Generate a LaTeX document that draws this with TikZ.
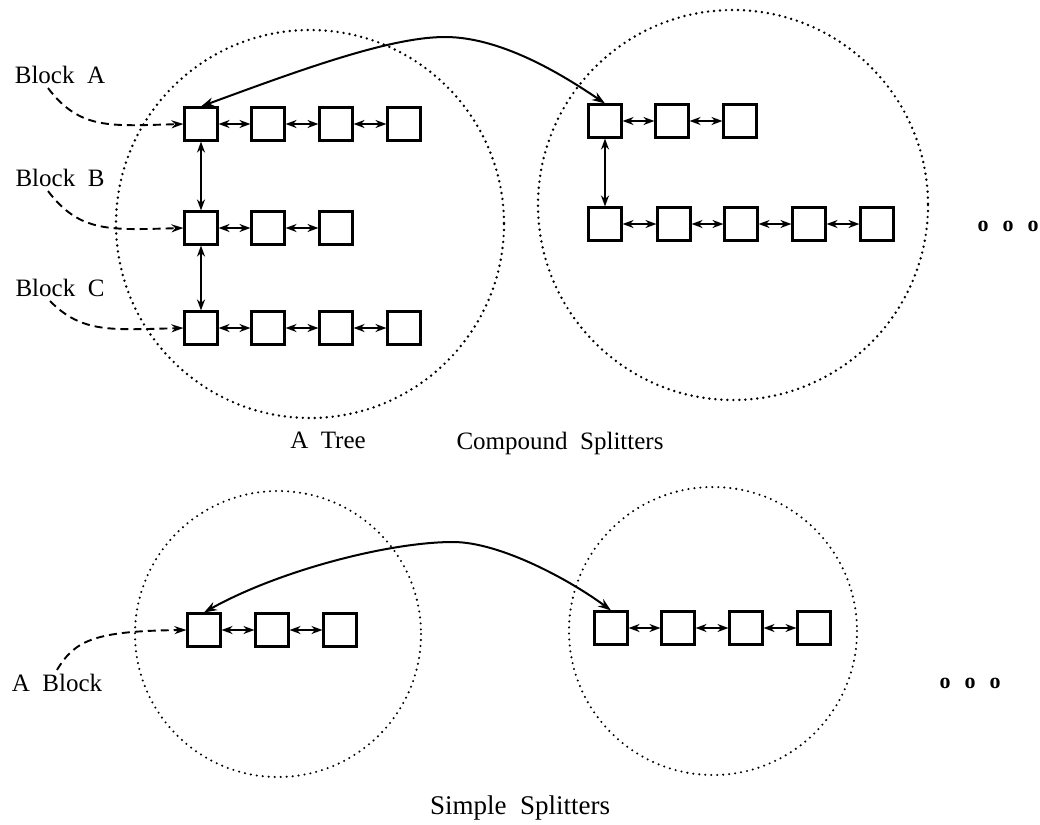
\documentclass[tikz,border=0pt]{standalone}
\usepackage{fontspec}
\setmainfont{Liberation Serif}
\usetikzlibrary{arrows.meta}
\tikzset{every picture/.style={line width=1.9pt,x=1pt,y=-1pt},
blk/.style={draw,line width=2.1pt,minimum size=33pt,inner sep=0pt},
lbl/.style={font=\fontsize{25}{30}\selectfont},
dot/.style={font=\fontsize{22}{26}\selectfont\bfseries,inner sep=0pt},
ring/.style={line width=2.7pt,dash pattern=on 0pt off 6pt,line cap=round},
link/.style={{Stealth[length=11pt,width=8pt]}-{Stealth[length=11pt,width=8pt]}},
jump/.style={line width=2pt,{Stealth[length=13pt,width=9pt]}-{Stealth[length=13pt,width=9pt]}},
ptr/.style={dash pattern=on 8pt off 5pt,-{Stealth[length=12pt,width=8pt]}}}
\begin{document}
\begin{tikzpicture}
\useasboundingbox (0,0) rectangle (1040,824);

% compound splitters
\draw[ring] (310,224) circle[radius=194];
\draw[ring] (733,205) circle[radius=195];

\foreach \x [count=\i] in {201,268,336,404} {
\node[blk] (a\i) at (\x,124) {};
\node[blk] (c\i) at (\x,328) {};
}
\foreach \x [count=\i] in {201,268,336} {
\node[blk] (b\i) at (\x,228) {};
\node[blk] (d\i) at (\x+404,121) {};
}
\foreach \x [count=\i] in {605,674,741,809,877} {
\node[blk] (e\i) at (\x,224) {};
}
\foreach \i/\j in {1/2,2/3,3/4} {
\draw[link] (a\i) -- (a\j);
\draw[link] (c\i) -- (c\j);
\draw[link] (e\i) -- (e\j);
}
\draw[link] (e4) -- (e5);
\foreach \i/\j in {1/2,2/3} {
\draw[link] (b\i) -- (b\j);
\draw[link] (d\i) -- (d\j);
}
\draw[link] (a1) -- (b1);
\draw[link] (b1) -- (c1);
\draw[link] (d1) -- (e1);

\coordinate (top) at (445,37);
\draw[jump] (a1.north) .. controls (300,70) and (390,37) .. (top)
  .. controls (505,37) and (570,80) .. (d1.north);

\node[lbl] (la) at (60,75) {Block~~A};
\node[lbl] (lb) at (60,178) {Block~~B};
\node[lbl] (lc) at (60,288) {Block~~C};
\draw[ptr] ([xshift=-12pt]la.south) .. controls (80,130) and (110,126) .. (a1.west);
\draw[ptr] ([xshift=-12pt]lb.south) .. controls (80,233) and (110,230) .. (b1.west);
\draw[ptr] ([xshift=-10pt]lc.south) .. controls (82,333) and (110,330) .. (c1.west);

\node[lbl] (tree) at (328,440) {A~~Tree};
\node[lbl] (cs) at (560,443) {Compound~~Splitters};
\foreach \x in {983,1008,1033} \node[dot] (o\x) at (\x,226) {o};

% simple splitters
\draw[ring,line width=2.3pt] (278,634) circle[radius=143];
\draw[ring,line width=2.3pt] (713,631) circle[radius=144];

\foreach \x [count=\i] in {204,272,340} {
\node[blk] (f\i) at (\x,630) {};
}
\foreach \x [count=\i] in {611,678,746,814} {
\node[blk] (g\i) at (\x,628) {};
}
\foreach \i/\j in {1/2,2/3} \draw[link] (f\i) -- (f\j);
\foreach \i/\j in {1/2,2/3,3/4} \draw[link] (g\i) -- (g\j);

\coordinate (arc) at (453,542);
\draw[jump] (f1.north) .. controls (280,570) and (390,542) .. (arc)
  .. controls (500,542) and (570,580) .. (g1.north);

\node[lbl] (lab) at (57,683) {A~~Block};
\draw[ptr] (lab.north) .. controls (75,640) and (95,631) .. (f1.west);

\node[lbl,font=\fontsize{27}{32}\selectfont] (ss) at (520,808) {Simple~~Splitters};
\foreach \x in {945,970,995} \node[dot] (q\x) at (\x,683) {o};
\end{tikzpicture}
\end{document}
